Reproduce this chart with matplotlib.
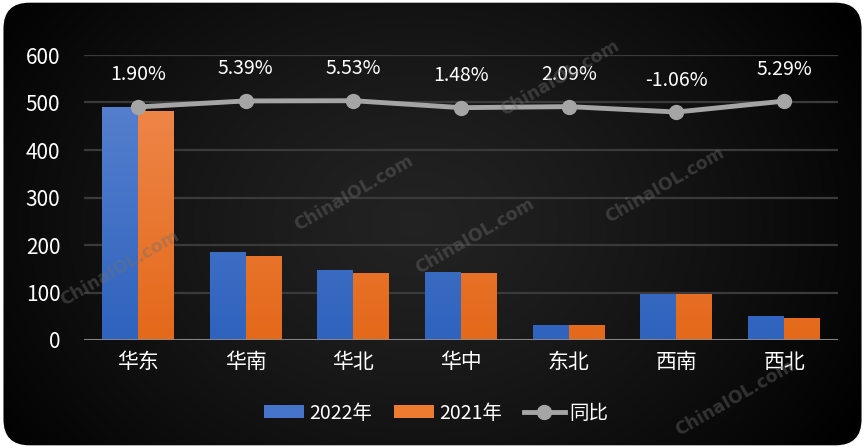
import numpy as np
import matplotlib
matplotlib.use("Agg")
import matplotlib.pyplot as plt
from matplotlib.patches import FancyBboxPatch, Patch
from matplotlib.lines import Line2D
from matplotlib.colors import LinearSegmentedColormap

plt.rcParams['font.family'] = ['Noto Sans CJK SC', 'DejaVu Sans']

# 数据
regions = ["华东", "华南", "华北", "华中", "东北", "西南", "西北"]
sales_2022 = [490, 185, 147, 143, 32, 97, 51]
sales_2021 = [482, 177, 141, 141, 31, 97, 46]
yoy = [1.90, 5.39, 5.53, 1.48, 2.09, -1.06, 5.29]
yoy_labels = ["1.90%", "5.39%", "5.53%", "1.48%", "2.09%", "-1.06%", "5.29%"]
y_ticks = [0, 100, 200, 300, 400, 500, 600]

W, H = 865, 448
fig = plt.figure(figsize=(W / 100, H / 100), dpi=100)
fig.patch.set_facecolor("white")

# 背景：圆角 + 径向渐变
bg = fig.add_axes([0, 0, 1, 1])
bg.set_xlim(0, 1)
bg.set_ylim(0, 1)
bg.axis("off")
xx, yy = np.meshgrid(np.linspace(0, 1, 400), np.linspace(0, 1, 220))
r = np.sqrt(((xx - 0.48) / 0.6) ** 2 + ((yy - 0.5) / 0.9) ** 2)
shade = np.clip(0.135 * (1 - r ** 1.3), 0, 1)
img = bg.imshow(np.dstack([shade, shade, shade]), extent=[0, 1, 0, 1],
                origin="lower", aspect="auto", zorder=0)
frame = FancyBboxPatch((0.004, 0.006), 0.992, 0.988,
                       boxstyle="round,pad=0,rounding_size=0.03",
                       mutation_aspect=W / H, transform=bg.transAxes,
                       facecolor="none", edgecolor="none")
bg.add_patch(frame)
img.set_clip_path(frame)

# 水印
for (wx, wy) in [(120, 268), (354, 193), (475, 236), (560, 78), (665, 185), (735, 398)]:
    fig.text(wx / W, 1 - wy / H, "ChinaIOL.com", rotation=30, ha="center", va="center",
             fontsize=12.5, fontweight="bold", family="DejaVu Sans",
             color="#707070", alpha=0.4, zorder=1)

ax = fig.add_axes([84 / W, 1 - 340 / H, (838 - 84) / W, (340 - 55) / H])
ax.patch.set_alpha(0)
x = np.arange(len(regions))
w = 0.334

blue_cm = LinearSegmentedColormap.from_list("b", ["#2f63be", "#5d85d1"])
orange_cm = LinearSegmentedColormap.from_list("o", ["#e4691a", "#f08c52"])

def gradient_bars(xs, vals, cmap):
    bars = ax.bar(xs, vals, width=w, color="none", edgecolor="none", zorder=2)
    grad = np.linspace(0, 1, 100).reshape(-1, 1)
    for b in bars:
        bx, bw = b.get_x(), b.get_width()
        im = ax.imshow(grad, extent=[bx, bx + bw, 0, 600], origin="lower",
                       aspect="auto", cmap=cmap, zorder=2)
        im.set_clip_path(b)
    return bars

gradient_bars(x - w / 2, sales_2022, blue_cm)
gradient_bars(x + w / 2, sales_2021, orange_cm)

ax.set_xlim(-0.5, len(regions) - 0.5)
ax.set_ylim(0, 600)
ax.set_yticks(y_ticks)
ax.set_xticks(x)
ax.set_xticklabels(regions)
ax.tick_params(axis="both", colors="white", labelsize=15, length=0)
ax.tick_params(axis="x", pad=8)
ax.tick_params(axis="y", pad=17)
for s in ax.spines.values():
    s.set_visible(False)
ax.set_axisbelow(True)
ax.grid(axis="y", color="#3a3a3a", linewidth=1.6, zorder=0)
ax.axhline(0, color="#8c8c8c", linewidth=2, zorder=3)

ax2 = ax.twinx()
ax2.set_ylim(-133.6, 32.1)
ax2.axis("off")
ax2.plot(x, yoy, color="#a5a5a5", linewidth=3.5, marker="o", markersize=10,
         solid_capstyle="round", zorder=5)
for xi, v, lab in zip(x, yoy, yoy_labels):
    ax2.annotate(lab, (xi, v), xytext=(0, 23), textcoords="offset points",
                 ha="center", va="center", color="white", fontsize=14)

# 图例
handles = [Patch(facecolor="#4574c8"), Patch(facecolor="#ee7b30"),
           Line2D([0], [0], color="#a5a5a5", linewidth=3.5, marker="o", markersize=10)]
fig.legend(handles, ["2022年", "2021年", "同比"], loc="center",
           bbox_to_anchor=(436 / W, 1 - 413 / H), ncol=3, frameon=False,
           fontsize=14, labelcolor="white", handlelength=2.1, handleheight=0.6,
           columnspacing=1.1, handletextpad=0.25)

fig.savefig("out.png", dpi=100, facecolor=fig.get_facecolor())
